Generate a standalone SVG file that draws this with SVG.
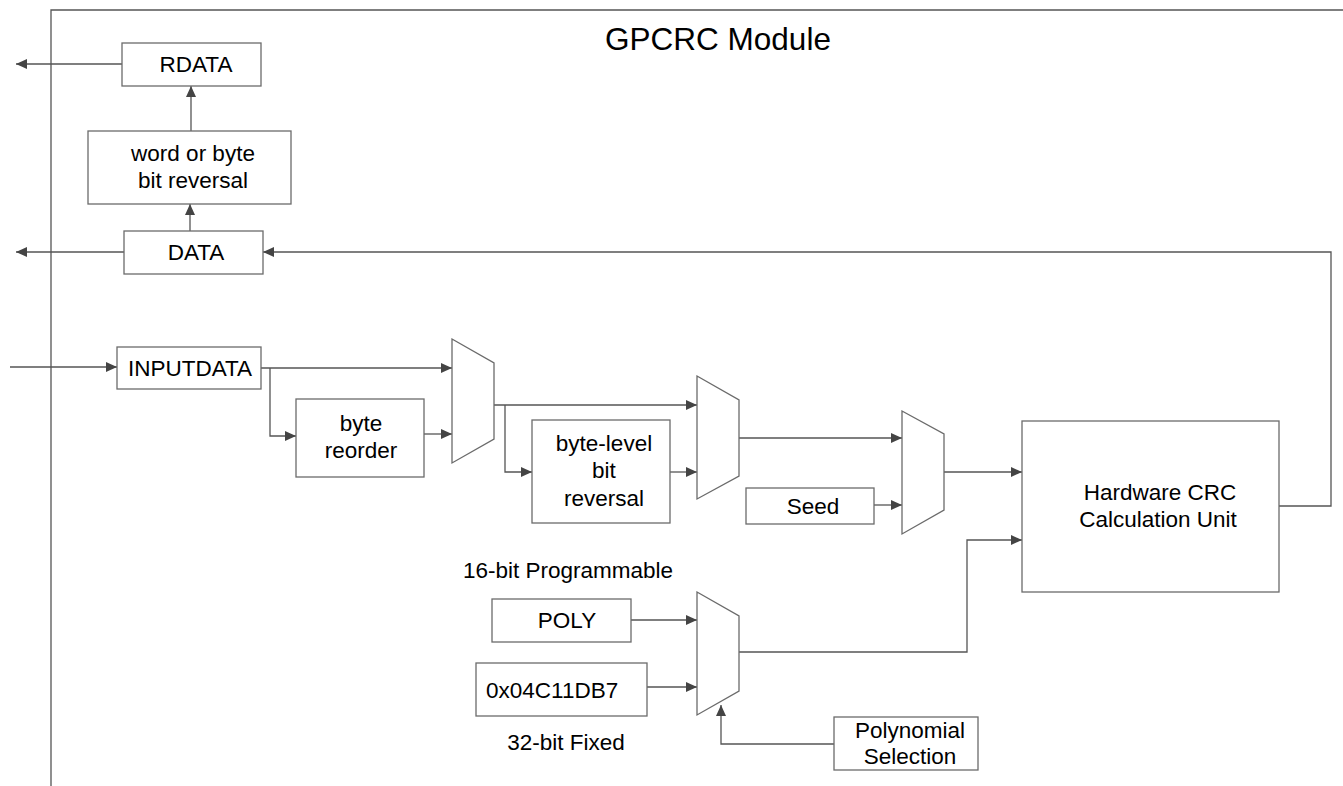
<svg xmlns="http://www.w3.org/2000/svg" width="1343" height="786" viewBox="0 0 1343 786">
<style>
.box{fill:#fff;stroke:#6b6b6b;stroke-width:1.3}
.mux{fill:#fff;stroke:#6b6b6b;stroke-width:1.3}
.ln{fill:none;stroke:#555;stroke-width:1.3}
.lna{fill:none;stroke:#555;stroke-width:1.3;marker-end:url(#ah)}
.border{fill:none;stroke:#555;stroke-width:1.3}
text{font-family:"Liberation Sans",Arial,sans-serif;font-size:22.5px;fill:#000}
.c{text-anchor:middle}
.title{font-size:31.5px}
</style>
<defs>
<marker id="ah" markerUnits="userSpaceOnUse" markerWidth="12" markerHeight="12" refX="11" refY="5" orient="auto">
<path d="M0,0 L11,5 L0,10 Z" fill="#444"/>
</marker>
</defs>
<rect width="1343" height="786" fill="#fff"/>
<g id="module-border">
<path class="border" d="M51,786 L51,10 L1343,10"/>
<text class="c title" x="718" y="50">GPCRC Module</text>
</g>
<g id="connectors">
<path class="lna" d="M122,64 L16,64"/>
<path class="lna" d="M124,252 L16,252"/>
<path class="lna" d="M191,131 L191,86"/>
<path class="lna" d="M190,231 L190,204"/>
<path class="lna" d="M10,367 L117,367"/>
<path class="lna" d="M261,368 L452,368"/>
<path class="lna" d="M270,368 L270,436 L296,436"/>
<path class="lna" d="M424,434 L452,434"/>
<path class="lna" d="M494,405 L697,405"/>
<path class="lna" d="M505,405 L505,472 L532,472"/>
<path class="lna" d="M670,472 L697,472"/>
<path class="lna" d="M739,438 L902,438"/>
<path class="lna" d="M874,505 L902,505"/>
<path class="lna" d="M944,472 L1022,472"/>
<path class="lna" d="M739,652 L967,652 L967,540 L1022,540"/>
<path class="lna" d="M1279,506 L1331,506 L1331,252 L263,252"/>
<path class="lna" d="M631,620 L697,620"/>
<path class="lna" d="M647,687 L697,687"/>
<path class="lna" d="M834,744 L721,744 L721,705"/>
</g>
<g id="rdata">
<rect class="box" x="122" y="43" width="139" height="43"/>
<text class="c" x="196" y="72">RDATA</text>
</g>
<g id="word-byte-reversal">
<rect class="box" x="88" y="131" width="203" height="73"/>
<text class="c" x="193" y="161">word or byte</text>
<text class="c" x="193" y="188">bit reversal</text>
</g>
<g id="data">
<rect class="box" x="124" y="231" width="139" height="43"/>
<text class="c" x="196" y="260">DATA</text>
</g>
<g id="inputdata">
<rect class="box" x="117" y="347" width="144" height="42"/>
<text class="c" x="190" y="376">INPUTDATA</text>
</g>
<g id="byte-reorder">
<rect class="box" x="296" y="399" width="128" height="78"/>
<text class="c" x="361" y="431">byte</text>
<text class="c" x="361" y="458">reorder</text>
</g>
<g id="mux1">
<polygon class="mux" points="452,339 494,363 494,439 452,463"/>
</g>
<g id="byte-level-bit-reversal">
<rect class="box" x="532" y="420" width="138" height="103"/>
<text class="c" x="604" y="451">byte-level</text>
<text class="c" x="604" y="478">bit</text>
<text class="c" x="604" y="506">reversal</text>
</g>
<g id="mux2">
<polygon class="mux" points="697,376 739,400 739,476 697,499"/>
</g>
<g id="seed">
<rect class="box" x="746" y="488" width="128" height="36"/>
<text class="c" x="813" y="514">Seed</text>
</g>
<g id="mux3">
<polygon class="mux" points="902,411 944,434 944,510 902,534"/>
</g>
<g id="crc-unit">
<rect class="box" x="1022" y="421" width="257" height="171"/>
<text class="c" x="1160" y="500">Hardware CRC</text>
<text class="c" x="1158" y="527">Calculation Unit</text>
</g>
<g id="poly">
<text x="463" y="578">16-bit Programmable</text>
<rect class="box" x="492" y="599" width="139" height="43"/>
<text class="c" x="567" y="628">POLY</text>
</g>
<g id="fixed-poly">
<rect class="box" x="476" y="663" width="171" height="53"/>
<text x="486" y="698">0x04C11DB7</text>
<text class="c" x="566" y="750">32-bit Fixed</text>
</g>
<g id="mux4">
<polygon class="mux" points="697,592 739,616 739,691 697,715"/>
</g>
<g id="polynomial-selection">
<rect class="box" x="834" y="717" width="144" height="53"/>
<text class="c" x="910" y="738">Polynomial</text>
<text class="c" x="910" y="764">Selection</text>
</g>
</svg>
